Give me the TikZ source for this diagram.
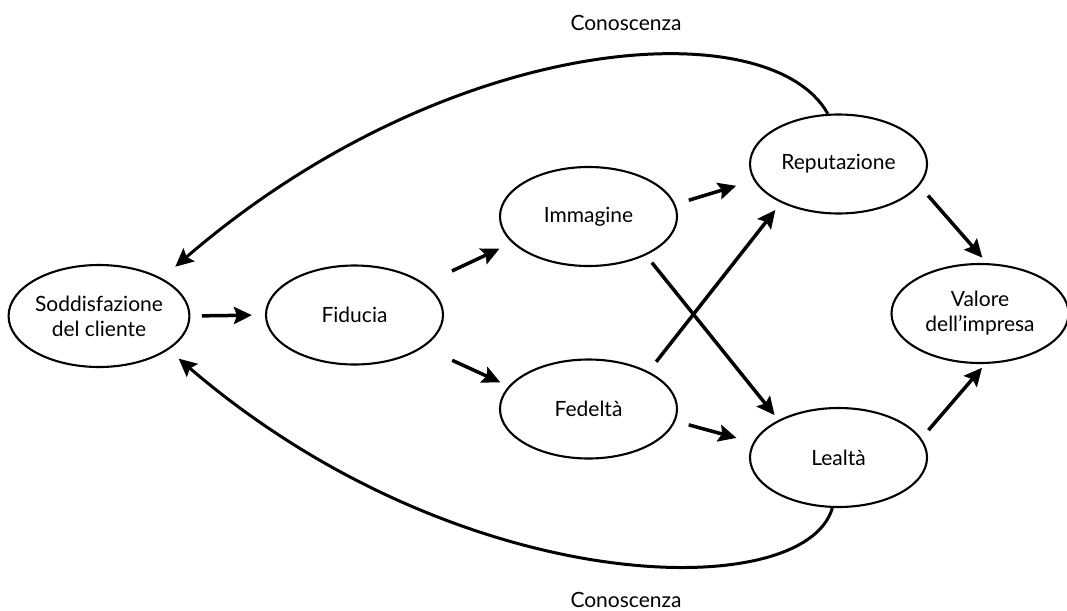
\documentclass[tikz,border=0pt]{standalone}
\usepackage{fontspec}
\setmainfont{Lato}
\usetikzlibrary{arrows.meta,shapes.geometric}
\begin{document}
\begin{tikzpicture}[x=1pt,y=-1pt,
  ell/.style={draw, ellipse, line width=2.1pt, minimum width=177pt, minimum height=99pt, inner sep=0pt, align=center, font=\fontsize{21}{25}\selectfont},
  arr/.style={line width=3.5pt, -{Stealth[length=18pt,width=17pt,inset=3pt]}},
  loopline/.style={line width=3pt, -{Stealth[length=18pt,width=17pt,inset=3pt]}},
  lbl/.style={font=\fontsize{21}{24}\selectfont, inner sep=0pt}]
\useasboundingbox (0,0) rectangle (1067,610);
\node[ell, minimum width=179pt, minimum height=102pt] (sod) at (99,316) {Soddisfazione\\del cliente};
\node[ell] (fid) at (354.5,315) {Fiducia};
\node[ell] (imm) at (588.5,216.5) {Immagine};
\node[ell] (fed) at (588.5,409) {Fedeltà};
\node[ell] (rep) at (838.5,164) {Reputazione};
\node[ell] (lea) at (838.5,457.5) {Lealtà};
\node[ell] (val) at (980,313.5) {Valore\\dell’impresa};
\node[lbl] (k1) at (626,23) {Conoscenza};
\node[lbl] (k2) at (626,600) {Conoscenza};
\draw[arr, shorten <=11.5pt, shorten >=13pt] (sod.east) -- (fid.west);
\draw[arr, shorten <=30pt, shorten >=13.9pt] (fid.24.7) -- (imm.199);
\draw[arr, shorten <=31.5pt, shorten >=9.2pt] (fid.-25.7) -- (fed.164.8);
\draw[arr, shorten <=14pt, shorten >=18.4pt] (imm.8.3) -- (rep.191.1);
\draw[arr, shorten <=9.4pt, shorten >=6.2pt] (imm.-34.2) -- (lea.148.9);
\draw[arr, shorten <=12.4pt, shorten >=9.2pt] (fed.32.7) -- (rep.214.1);
\draw[arr, shorten <=13.8pt, shorten >=17.1pt] (fed.-8) -- (lea.170.2);
\draw[arr, shorten <=13.1pt, shorten >=7.2pt] (rep.-15.9) -- (val.82.9);
\draw[arr, shorten <=10.8pt, shorten >=5pt] (lea.13.8) -- (val.-84.8);
\draw[loopline, shorten >=17.7pt] (rep.102.6) .. controls (770,10) and (450,30) .. (sod.31.9);
\draw[loopline, shorten >=13.4pt] (lea.263.7) .. controls (805,605) and (460,600) .. (sod.-26);
\end{tikzpicture}
\end{document}
